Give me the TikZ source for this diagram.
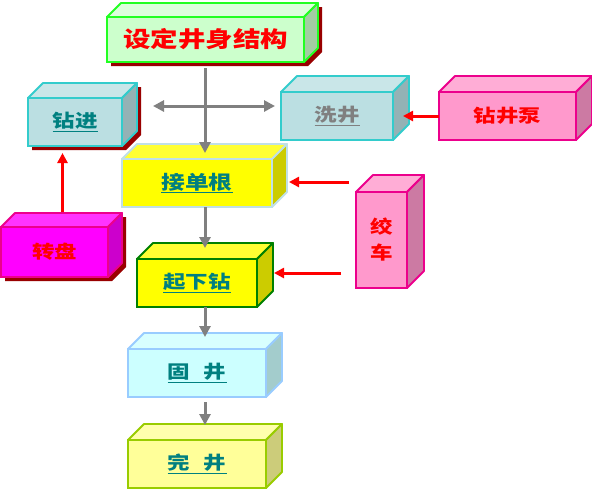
\documentclass[tikz,border=0pt]{standalone}
\usepackage{fontspec}
\newfontfamily\cjk[FakeStretch=1.25]{Noto Sans CJK SC}
\usepackage{tikz}
\usetikzlibrary{arrows.meta,calc,backgrounds}

\definecolor{designfront}{HTML}{CCFFCC}
\definecolor{designtop}{HTML}{DDFFDD}
\definecolor{designside}{HTML}{A3CCA3}
\definecolor{designline}{HTML}{22FF22}
\definecolor{shadowred}{HTML}{990000}
\definecolor{drillfront}{HTML}{BBDFE2}
\definecolor{drilltop}{HTML}{C9E6E8}
\definecolor{drillside}{HTML}{94B2B5}
\definecolor{drillline}{HTML}{33CCCC}
\definecolor{pinkfront}{HTML}{FF99CC}
\definecolor{pinktop}{HTML}{FFADD6}
\definecolor{pinkside}{HTML}{CC7AA3}
\definecolor{magfront}{HTML}{FF00FF}
\definecolor{magtop}{HTML}{FF33FF}
\definecolor{magside}{HTML}{CC00CC}
\definecolor{yellowfront}{HTML}{FFFF00}
\definecolor{yellowtop}{HTML}{FFFF33}
\definecolor{yellowside}{HTML}{CCCC00}
\definecolor{jointline}{HTML}{C0E0E6}
\definecolor{tripline}{HTML}{008000}
\definecolor{cyanfront}{HTML}{CCFFFF}
\definecolor{cyantop}{HTML}{D8FFFF}
\definecolor{cyanside}{HTML}{A3CCCC}
\definecolor{cementline}{HTML}{99CCFF}
\definecolor{lemonfront}{HTML}{FFFF99}
\definecolor{lemontop}{HTML}{FFFFAD}
\definecolor{lemonside}{HTML}{CCCC7A}
\definecolor{completeline}{HTML}{99CC00}
\definecolor{textteal}{HTML}{008080}
\definecolor{arrowgray}{HTML}{808080}

\begin{document}
\begin{tikzpicture}[x=1pt, y=-1pt,
    box/.style={draw, line width=1.8pt, outer sep=0pt, inner sep=0pt, font=\cjk\bfseries\fontsize{18}{26}\selectfont},
    grayline/.style={draw=arrowgray, line width=3pt},
    grayarrow/.style={grayline, -{Triangle[length=11pt, width=11pt]}},
    redarrow/.style={draw=red, line width=3pt, -{Triangle[length=10pt, width=10pt]}}]
        \useasboundingbox (0,0) rectangle (592,491);

        % Front faces
        \node[box, draw=designline, fill=designfront, text=red, font=\cjk\bfseries\fontsize{22}{26}\selectfont, minimum width=197pt, minimum height=45pt] (design) at (205.5,39.5) {设定井身结构\hspace{16pt}};
        \node[box, draw=drillline, fill=drillfront, text=textteal, minimum width=94pt, minimum height=48pt] (drill) at (75,122) {\underline{钻进}};
        \node[box, draw=drillline, fill=drillfront, text=arrowgray, minimum width=112pt, minimum height=48pt] (wash) at (337,116) {\underline{洗井}};
        \node[box, draw=magenta, fill=pinkfront, text=red, minimum width=137pt, minimum height=48pt] (pump) at (507.5,116) {钻井泵};
        \node[box, draw=jointline, fill=yellowfront, text=textteal, font=\cjk\bfseries\fontsize{19}{26}\selectfont, minimum width=150pt, minimum height=48pt] (joint) at (197,183) {\underline{接单根}};
        \node[box, draw=magenta, fill=pinkfront, text=red, align=center, minimum width=51pt, minimum height=96pt] (winch) at (381.5,240) {绞\\车};
        \node[box, draw=magenta, fill=magfront, text=red, minimum width=107pt, minimum height=50pt] (table) at (54.5,252) {转盘};
        \node[box, draw=tripline, fill=yellowfront, text=textteal, minimum width=120pt, minimum height=48pt] (trip) at (197,283) {\underline{起下钻}};
        \node[box, draw=cementline, fill=cyanfront, text=textteal, minimum width=138pt, minimum height=48pt] (cement) at (197,373) {\underline{固\hspace{14pt}井}};
        \node[box, draw=completeline, fill=lemonfront, text=textteal, minimum width=138pt, minimum height=48pt] (complete) at (197,464) {\underline{完\hspace{14pt}井}};

        % Top and side faces
        \foreach \n/\d/\tc/\sc/\bc in {design/14/designtop/designside/designline, drill/15/drilltop/drillside/drillline,
            wash/16/drilltop/drillside/drillline, pump/16/pinktop/pinkside/magenta, joint/15/yellowtop/yellowside/jointline,
            winch/17/pinktop/pinkside/magenta, table/14/magtop/magside/magenta, trip/16/yellowtop/yellowside/tripline,
            cement/16/cyantop/cyanside/cementline, complete/16/lemontop/lemonside/completeline}
        {
            \filldraw[fill=\tc, draw=\bc, line width=1.8pt, line join=round] (\n.north west) -- ++(\d,-\d) -- ([shift={(\d,-\d)}]\n.north east) -- (\n.north east) -- cycle;
            \filldraw[fill=\sc, draw=\bc, line width=1.8pt, line join=round] (\n.north east) -- ++(\d,-\d) -- ([shift={(\d,-\d)}]\n.south east) -- (\n.south east) -- cycle;
        }

        % Shadows
        \begin{scope}[on background layer]
            \foreach \n/\d in {design/14, drill/15, table/14}
                \fill[shadowred] ([shift={(4,4)}]\n.south west) -- ([shift={(4,4)}]\n.north west) -- ([shift={(4+\d,4-\d)}]\n.north west)
                    -- ([shift={(4+\d,4-\d)}]\n.north east) -- ([shift={(4+\d,4-\d)}]\n.south east) -- ([shift={(4,4)}]\n.south east) -- cycle;
        \end{scope}

        % Gray arrows
        \coordinate (spine) at (205,0);
        \coordinate (hleft) at (153,106);
        \coordinate (hright) at (275,106);
        \draw[grayarrow] ($(spine |- design.south)+(0,6)$) -- ($(spine |- joint.north)+(0,-6)$);
        \draw[grayline, {Triangle[length=11pt, width=11pt]}-{Triangle[length=11pt, width=11pt]}] (hleft) -- (hright);
        \draw[grayarrow] (spine |- joint.south) -- ($(spine |- trip.north)+(0,-11)$);
        \draw[grayarrow] (spine |- trip.south) -- ($(spine |- cement.north)+(0,-12)$);
        \draw[grayarrow] ($(spine |- cement.south)+(0,5)$) -- ($(spine |- complete.north)+(0,-15)$);

        % Red arrows
        \draw[redarrow] (pump.west) -- ($(pump.west -| wash.east)+(10,0)$);
        \draw[redarrow] ($(winch.west |- joint.east)+(-7,-1)$) -- ($(joint.east)+(17,-1)$);
        \draw[redarrow] ($(winch.west |- trip.east)+(-15,-10)$) -- ($(trip.east)+(17,-10)$);
        \draw[redarrow] ($(table.north)+(8,-15)$) -- ($(table.north |- drill.south)+(8,7)$);

    \end{tikzpicture}
\end{document}
